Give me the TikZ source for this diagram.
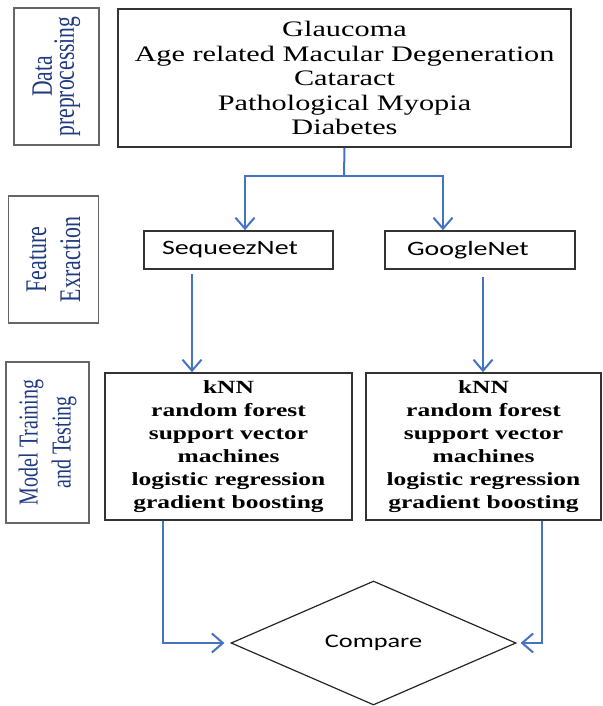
\documentclass[tikz,border=0pt]{standalone}
\usepackage{fontspec}
\usepackage{tikz}
\usetikzlibrary{shapes.geometric,arrows.meta}
\setmainfont{Liberation Serif}
\newfontfamily\wideserif[FakeStretch=1.37]{Liberation Serif}
\newfontfamily\widesans[FakeStretch=1.37]{Carlito}
\newfontfamily\tallserif[FakeStretch=0.73]{Liberation Serif}
\definecolor{flowblue}{RGB}{70,114,196}
\definecolor{labelblue}{RGB}{31,58,128}

\begin{document}
\begin{tikzpicture}[x=0.5pt, y=-0.5pt,
    stage/.style={draw=black!80, line width=0.8pt, align=center, inner sep=0pt},
    side/.style={draw=black!60, line width=0.6pt, rotate=90, align=center, inner sep=0pt, text=labelblue},
    net/.style={draw=black!80, line width=0.8pt, minimum height=19pt, inner ysep=0pt, font=\widesans\fontsize{10.2}{12}\selectfont},
    flow/.style={draw=flowblue, line width=1pt, -{Straight Barb[length=5.5pt,width=9.5pt]}},
    flowline/.style={draw=flowblue, line width=1pt}]
    \useasboundingbox (0,0) rectangle (603,706);
    \node[side, minimum width=68.5pt, minimum height=42.5pt, font=\tallserif\fontsize{14.8}{11}\selectfont] (lprep) at (56.5,76.5) {Data\\preprocessing};
    \node[side, minimum width=63.5pt, minimum height=45pt, font=\tallserif\fontsize{15}{17}\selectfont] (lfeat) at (53.5,259.5) {Feature\\Exraction};
    \node[side, minimum width=80.5pt, minimum height=41.5pt, font=\tallserif\fontsize{13.7}{16.5}\selectfont] (lmodel) at (47.5,442.5) {Model Training\\and Testing};
    \node[stage, minimum width=226.5pt, minimum height=69pt, font=\wideserif\fontsize{11.06}{12.25}\selectfont] (ill) at (344.5,78) {Glaucoma\\Age related Macular Degeneration\\Cataract\\Pathological Myopia\\Diabetes};
    \node[net, inner xsep=9pt] (seq) at (238.5,250) {\makebox[76.5pt][l]{SequeezNet}};
    \node[net, inner xsep=11pt] (goo) at (480,250) {\makebox[73pt][l]{GoogleNet}};
    \node[stage, minimum width=123.5pt, minimum height=73.5pt, font=\wideserif\bfseries\fontsize{9.3}{11.5}\selectfont] (mleft) at (228.5,446.5) {kNN\\random forest\\support vector\\machines\\logistic regression\\gradient boosting};
    \node[stage, minimum width=117.5pt, minimum height=73.5pt, font=\wideserif\bfseries\fontsize{9.3}{11.5}\selectfont] (mright) at (483.5,446.5) {kNN\\random forest\\support vector\\machines\\logistic regression\\gradient boosting};
    \node[diamond, draw=black!85, line width=0.6pt, aspect=2.3, minimum width=142.5pt, minimum height=62pt, inner sep=0pt, font=\widesans\fontsize{9.6}{12}\selectfont] (cmp) at (373.5,643) {Compare};
    \coordinate (split) at (344,176);
    \coordinate (seqout) at ([xshift=-23.25pt, yshift=-2pt]seq.south);
    \coordinate (gooout) at ([xshift=1.5pt, yshift=-3.5pt]goo.south);
    \draw[flowline] (ill.south) -- (split);
    \draw[flow] (split) -| ([xshift=3.25pt]seq.north);
    \draw[flow] (split) -| ([xshift=-18.5pt]goo.north);
    \draw[flow] (seqout) -- (seqout |- mleft.north);
    \draw[flow] (gooout) -- (gooout |- mright.north);
    \draw[flow] ([xshift=-32.75pt]mleft.south) |- ([xshift=-3pt]cmp.west);
    \draw[flow] ([xshift=29.25pt]mright.south) |- ([xshift=2pt]cmp.east);
\end{tikzpicture}
\end{document}
